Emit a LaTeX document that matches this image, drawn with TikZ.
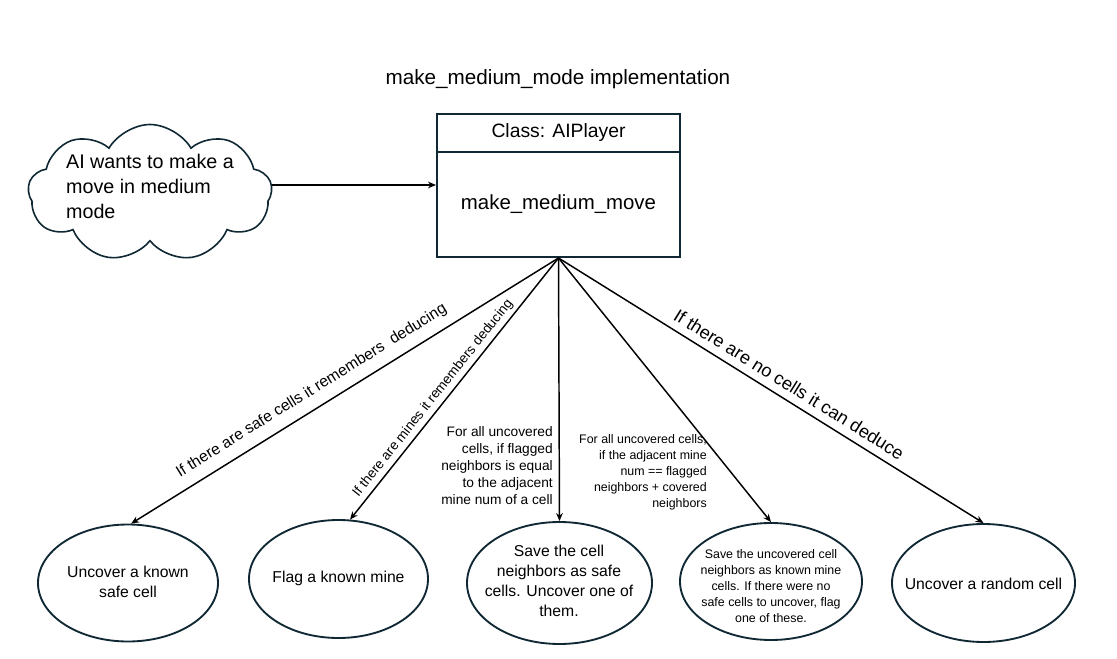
\documentclass[tikz,border=0pt]{standalone}
\usepackage{fontspec}
\setmainfont{Liberation Sans}
\usetikzlibrary{shapes.geometric,shapes.symbols,arrows.meta}
\definecolor{navy}{RGB}{16,40,52}
\newcommand{\fs}[2]{\fontsize{#1}{#2}\selectfont}
\begin{document}
\begin{tikzpicture}[x=0.75pt,y=-0.75pt,
  arr/.style={line width=1.1pt,-{Stealth[length=6pt,width=5pt]}},
  rarr/.style={line width=1.1pt,{Stealth[length=6pt,width=5pt]}-},
  ell/.style={draw=navy,line width=1.4pt,ellipse,inner sep=0pt},
  etext/.style={align=center,inner sep=0pt,font=\fs{11.8pt}{15pt}},
  boxpart/.style={draw=navy,line width=1.5pt,rectangle,inner sep=0pt,minimum width=182.25pt}
]
\useasboundingbox[fill=white] (0,0) rectangle (1117,659);

\node[font=\fs{15.5pt}{18pt}] (title) at (558,79) {make\_medium\_mode implementation};

\node[draw=navy,line width=1.2pt,cloud,cloud puffs=9,cloud puff arc=120,cloud ignores aspect,
      minimum width=183pt,minimum height=102.75pt] (cloud) at (150,193) {};
\node[align=left,inner sep=0pt,font=\fs{14.8pt}{18.75pt}] (cloudtext) at (150,186)
  {AI wants to make a\\move in medium\\mode};

\node[boxpart,minimum height=28.5pt,font=\fs{14.5pt}{17pt}] (header) at (558.5,133) {Class: AIPlayer};
\node[boxpart,minimum height=78.75pt,font=\fs{15.3pt}{18pt}] (body) at (558.5,204.5) {make\_medium\_move};

\draw[arr] (cloud.east |- 0,185) -- (body.west |- 0,185);

\node[ell,minimum width=135pt,minimum height=87.75pt] (e1) at (128,583) {};
\node[ell,minimum width=134.25pt,minimum height=88.5pt] (e2) at (338.5,579) {};
\node[ell,minimum width=138.75pt,minimum height=91.5pt] (e3) at (559.5,583) {};
\node[ell,minimum width=136.5pt,minimum height=87.75pt] (e4) at (771,581.5) {};
\node[ell,minimum width=137.25pt,minimum height=88.5pt] (e5) at (983.5,583) {};

\node[etext] (t1) at (128,582) {Uncover a known\\safe cell};
\node[etext] (t2) at (338.5,578) {Flag a known mine};
\node[etext] (t3) at (559,581) {Save the cell\\neighbors as safe\\cells. Uncover one of\\them.};
\node[etext,font=\fs{9.3pt}{12pt}] (t4) at (771,586) {Save the uncovered cell\\neighbors as known mine\\cells. If there were no\\safe cells to uncover, flag\\one of these.};
\node[etext] (t5) at (983.5,584) {Uncover a random cell};

\draw[rarr] (e1.87) -- node[pos=0.444,sloped,above,inner xsep=0pt,inner ysep=7pt,font=\fs{11.8pt}{14pt}] (l1) {If there are safe cells it remembers\ \ deducing} (body.south);
\draw[rarr] (e2.79) -- node[pos=0.438,sloped,above,inner xsep=0pt,inner ysep=2.7pt,font=\fs{10.2pt}{12pt}] (l2) {If there are mines it remembers deducing} (body.south);
\draw[arr] (body.south) -- (e3.north);
\draw[arr] (body.south) -- (e4.north);
\draw[arr] (body.south) -- node[pos=0.524,sloped,above,inner xsep=0pt,inner ysep=5.6pt,font=\fs{13.6pt}{16pt}] (l5) {If there are no cells it can deduce} (e5.north);

\node[anchor=east,align=right,inner sep=0pt,font=\fs{10.3pt}{12.75pt}] (l3) at (553,466)
  {For all uncovered\\cells, if flagged\\neighbors is equal\\to the adjacent\\mine num of a cell};
\node[anchor=east,align=right,inner sep=0pt,font=\fs{9.3pt}{12pt}] (l4) at (707,472.5)
  {For all uncovered cells,\\if the adjacent mine\\num == flagged\\neighbors + covered\\neighbors};
\end{tikzpicture}
\end{document}
